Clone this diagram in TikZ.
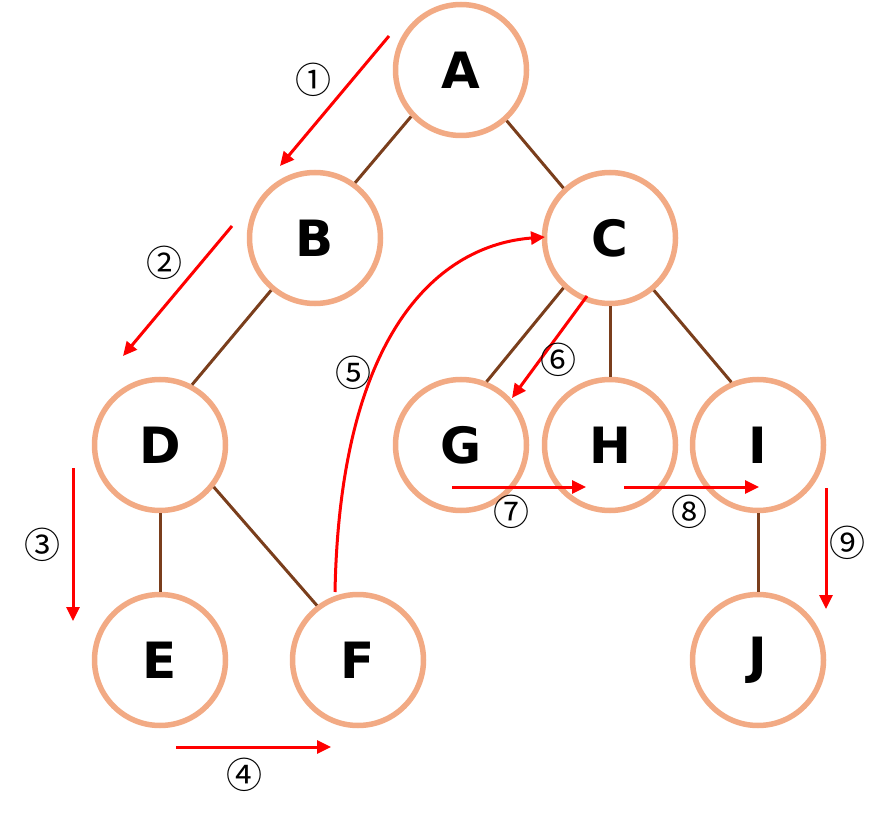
\documentclass[tikz,border=0pt]{standalone}
\usepackage{fontspec}
\newfontfamily\letfont{DejaVu Sans}
\newfontfamily\circfont{Noto Sans CJK KR}
\usetikzlibrary{arrows.meta}
\definecolor{ringc}{HTML}{F2AA84}
\definecolor{edgec}{HTML}{7A3E1C}
\begin{document}
\begin{tikzpicture}[x=1pt,y=-1pt,
  vtx/.style={circle,draw=ringc,line width=5.5pt,fill=white,minimum size=131pt,inner sep=0pt,font=\letfont\bfseries\fontsize{50}{50}\selectfont},
  edge/.style={draw=edgec,line width=3pt},
  walk/.style={draw=red,line width=3pt,-{Triangle[length=14pt,width=13pt]}},
  num/.style={font=\circfont\fontsize{36}{36}\selectfont,inner sep=0pt}]
\useasboundingbox (0,0) rectangle (889,818);
\node[vtx] (A) at (461,70) {A};
\node[vtx] (B) at (315,238) {B};
\node[vtx] (C) at (610,238) {C};
\node[vtx] (D) at (160,445) {D};
\node[vtx] (G) at (461,445) {G};
\node[vtx] (H) at (610,445) {H};
\node[vtx] (I) at (758,445) {I};
\node[vtx] (E) at (160,660) {E};
\node[vtx] (F) at (358,660) {F};
\node[vtx] (J) at (758,660) {J};
\draw[edge] (A.223) -- (B.54);
\draw[edge] (A.312) -- (C.133);
\draw[edge] (B.230) -- (D.62);
\draw[edge] (C.227) -- (G.68);
\draw[edge] (C.270) -- (H.90);
\draw[edge] (C.310) -- (I.113);
\draw[edge] (D.270) -- (E.90);
\draw[edge] (D.322) -- (F.127);
\draw[edge] (I.270) -- (J.90);
\coordinate (s1) at (389,36); \coordinate (e1) at (280,166);
\coordinate (s2) at (232,226); \coordinate (e2) at (123,356);
\coordinate (s3) at (73,468); \coordinate (e3) at (73,621);
\coordinate (s4) at (176,747); \coordinate (e4) at (331,747);
\coordinate (s5) at (335,592); \coordinate (e5) at (545,237);
\coordinate (s6) at (587,296); \coordinate (e6) at (512,398);
\coordinate (s7) at (452,487); \coordinate (e7) at (586,487);
\coordinate (s8) at (624,487); \coordinate (e8) at (759,487);
\coordinate (s9) at (826,488); \coordinate (e9) at (826,609);
\draw[walk] (s1) -- (e1);
\draw[walk] (s2) -- (e2);
\draw[walk] (s3) -- (e3);
\draw[walk] (s4) -- (e4);
\draw[walk] (s5) .. controls (340,330) and (440,245) .. (e5);
\draw[walk] (s6) -- (e6);
\draw[walk] (s7) -- (e7);
\draw[walk] (s8) -- (e8);
\draw[walk] (s9) -- (e9);
\node[num] (n1) at (313,80) {①};
\node[num] (n2) at (164,263) {②};
\node[num] (n3) at (42,545) {③};
\node[num] (n4) at (244,775) {④};
\node[num] (n5) at (353,373) {⑤};
\node[num] (n6) at (558,360) {⑥};
\node[num] (n7) at (511,512) {⑦};
\node[num] (n8) at (689,512) {⑧};
\node[num] (n9) at (847,543) {⑨};
\end{tikzpicture}
\end{document}
